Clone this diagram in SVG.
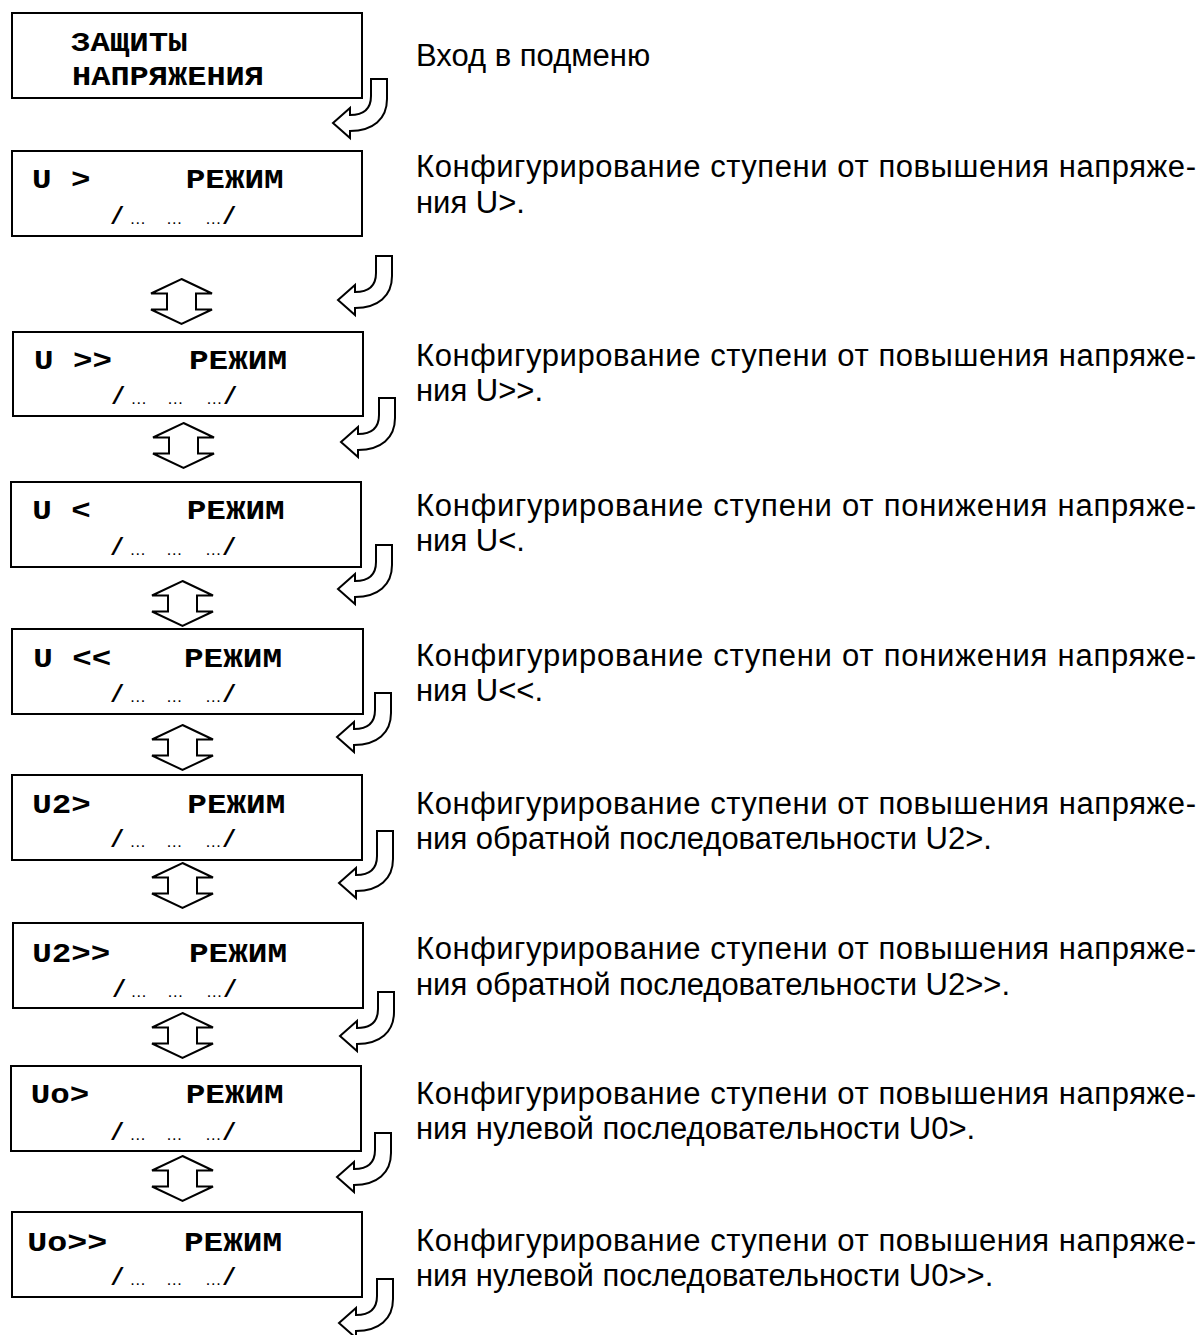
<svg xmlns="http://www.w3.org/2000/svg" xmlns:xlink="http://www.w3.org/1999/xlink" width="1201" height="1335" viewBox="0 0 1201 1335">
<style>
.box{fill:#fff;stroke:#000;stroke-width:2}
.mono{font-family:"Liberation Mono","DejaVu Sans Mono",monospace;font-weight:bold;font-size:27px;fill:#000}
.sl{font-family:"Liberation Mono","DejaVu Sans Mono",monospace;font-weight:bold;font-size:24px}
.el{font-family:"Liberation Sans",Arial,sans-serif;font-size:16.5px}
.sub{fill:#000}
.desc{font-family:"Liberation Sans",Arial,sans-serif;font-size:31px;fill:#000}
.arr{fill:#fff;stroke:#000;stroke-width:2;stroke-linejoin:miter}
</style>
<defs>
<path id="hook" d="M0,44 L17,29 L17,36 C30,36 38,30 38,17 L38,0 L54,0 L54,20 C54,40 40,52 17,52 L17,59 Z"/>
<path id="hookLong" d="M0,52 L17,37 L17,44 C30,44 38,38 38,25 L38,0 L54,0 L54,28 C54,48 40,60 17,60 L17,67 Z"/>
<path id="updown" d="M30.5,0 L61,14.5 L45,14.5 L45,30.5 L61,30.5 L30.5,45 L0,30.5 L16,30.5 L16,14.5 L0,14.5 Z"/>
</defs>
<rect width="1201" height="1335" fill="#fff"/>

<g id="connectors">
<use xlink:href="#hook" class="arr" transform="translate(333,79)"/>
<use xlink:href="#hook" class="arr" transform="translate(338,256)"/>
<use xlink:href="#hook" class="arr" transform="translate(341,398)"/>
<use xlink:href="#hook" class="arr" transform="translate(338,545)"/>
<use xlink:href="#hook" class="arr" transform="translate(337,693)"/>
<use xlink:href="#hookLong" class="arr" transform="translate(339,831)"/>
<use xlink:href="#hook" class="arr" transform="translate(340,992)"/>
<use xlink:href="#hook" class="arr" transform="translate(337,1133)"/>
<use xlink:href="#hook" class="arr" transform="translate(339,1279)"/>
<use xlink:href="#updown" class="arr" transform="translate(151,279)"/>
<use xlink:href="#updown" class="arr" transform="translate(153,423)"/>
<use xlink:href="#updown" class="arr" transform="translate(152,581)"/>
<use xlink:href="#updown" class="arr" transform="translate(152,725)"/>
<use xlink:href="#updown" class="arr" transform="translate(152,863)"/>
<use xlink:href="#updown" class="arr" transform="translate(152,1013)"/>
<use xlink:href="#updown" class="arr" transform="translate(152,1156)"/>
</g>

<g id="node-menu" transform="translate(12,13)">
<rect class="box" width="350" height="85"/>
<text class="mono" x="59" y="37.7" textLength="116.5" lengthAdjust="spacingAndGlyphs">ЗАЩИТЫ</text>
<text class="mono" x="60" y="72" textLength="192" lengthAdjust="spacingAndGlyphs">НАПРЯЖЕНИЯ</text>
</g>

<g id="node-u1" transform="translate(12,151)">
<rect class="box" width="350" height="85"/>
<text class="mono" x="20" y="37" textLength="58.5" lengthAdjust="spacingAndGlyphs">U &gt;</text>
<text class="mono" x="173.7" y="37" textLength="98" lengthAdjust="spacingAndGlyphs">РЕЖИМ</text>
<text class="sub" y="73"><tspan class="sl" x="98">/</tspan><tspan class="el" x="117.5">…</tspan><tspan class="el" x="154">…</tspan><tspan class="el" x="193">…</tspan><tspan class="sl" x="210">/</tspan></text>
</g>

<g id="node-u2" transform="translate(13,332)">
<rect class="box" width="350" height="84"/>
<text class="mono" x="21" y="36.5" textLength="78" lengthAdjust="spacingAndGlyphs">U &gt;&gt;</text>
<text class="mono" x="176" y="36.5" textLength="98" lengthAdjust="spacingAndGlyphs">РЕЖИМ</text>
<text class="sub" y="72"><tspan class="sl" x="98">/</tspan><tspan class="el" x="117.5">…</tspan><tspan class="el" x="154">…</tspan><tspan class="el" x="193">…</tspan><tspan class="sl" x="210">/</tspan></text>
</g>

<g id="node-u3" transform="translate(11,482)">
<rect class="box" width="350" height="85"/>
<text class="mono" x="21.3" y="36.5" textLength="58.5" lengthAdjust="spacingAndGlyphs">U &lt;</text>
<text class="mono" x="175.7" y="36.5" textLength="98" lengthAdjust="spacingAndGlyphs">РЕЖИМ</text>
<text class="sub" y="73"><tspan class="sl" x="99">/</tspan><tspan class="el" x="118.5">…</tspan><tspan class="el" x="155">…</tspan><tspan class="el" x="194">…</tspan><tspan class="sl" x="211">/</tspan></text>
</g>

<g id="node-u4" transform="translate(12,629)">
<rect class="box" width="351" height="85"/>
<text class="mono" x="21.3" y="38.3" textLength="78" lengthAdjust="spacingAndGlyphs">U &lt;&lt;</text>
<text class="mono" x="172" y="38.3" textLength="98" lengthAdjust="spacingAndGlyphs">РЕЖИМ</text>
<text class="sub" y="73"><tspan class="sl" x="98">/</tspan><tspan class="el" x="117.5">…</tspan><tspan class="el" x="154">…</tspan><tspan class="el" x="193">…</tspan><tspan class="sl" x="210">/</tspan></text>
</g>

<g id="node-u5" transform="translate(12,775)">
<rect class="box" width="350" height="85"/>
<text class="mono" x="20.3" y="37.7" textLength="58.5" lengthAdjust="spacingAndGlyphs">U2&gt;</text>
<text class="mono" x="175.3" y="37.7" textLength="98" lengthAdjust="spacingAndGlyphs">РЕЖИМ</text>
<text class="sub" y="72"><tspan class="sl" x="98">/</tspan><tspan class="el" x="117.5">…</tspan><tspan class="el" x="154">…</tspan><tspan class="el" x="193">…</tspan><tspan class="sl" x="210">/</tspan></text>
</g>

<g id="node-u6" transform="translate(13,923)">
<rect class="box" width="350" height="85"/>
<text class="mono" x="19.3" y="38.7" textLength="78" lengthAdjust="spacingAndGlyphs">U2&gt;&gt;</text>
<text class="mono" x="176" y="38.7" textLength="98" lengthAdjust="spacingAndGlyphs">РЕЖИМ</text>
<text class="sub" y="74"><tspan class="sl" x="99">/</tspan><tspan class="el" x="117.5">…</tspan><tspan class="el" x="154">…</tspan><tspan class="el" x="193">…</tspan><tspan class="sl" x="210">/</tspan></text>
</g>

<g id="node-u7" transform="translate(11,1066)">
<rect class="box" width="350" height="85"/>
<text class="mono" x="19.7" y="37.3" textLength="58.5" lengthAdjust="spacingAndGlyphs">Uo&gt;</text>
<text class="mono" x="174.7" y="37.3" textLength="98" lengthAdjust="spacingAndGlyphs">РЕЖИМ</text>
<text class="sub" y="74"><tspan class="sl" x="99">/</tspan><tspan class="el" x="118.5">…</tspan><tspan class="el" x="155">…</tspan><tspan class="el" x="194">…</tspan><tspan class="sl" x="211">/</tspan></text>
</g>

<g id="node-u8" transform="translate(12,1212)">
<rect class="box" width="350" height="85"/>
<text class="mono" x="15.3" y="38.7" textLength="80" lengthAdjust="spacingAndGlyphs">Uo&gt;&gt;</text>
<text class="mono" x="172" y="38.7" textLength="98" lengthAdjust="spacingAndGlyphs">РЕЖИМ</text>
<text class="sub" y="73"><tspan class="sl" x="98.3">/</tspan><tspan class="el" x="117.5">…</tspan><tspan class="el" x="154">…</tspan><tspan class="el" x="193">…</tspan><tspan class="sl" x="210">/</tspan></text>
</g>

<g id="descriptions">
<text class="desc" x="416" y="66">Вход в подменю</text>
<text class="desc" x="416" y="177" textLength="780" lengthAdjust="spacing">Конфигурирование ступени от повышения напряже-</text>
<text class="desc" x="416" y="213">ния U&gt;.</text>
<text class="desc" x="416" y="366" textLength="780" lengthAdjust="spacing">Конфигурирование ступени от повышения напряже-</text>
<text class="desc" x="416" y="401">ния U&gt;&gt;.</text>
<text class="desc" x="416" y="516" textLength="780" lengthAdjust="spacing">Конфигурирование ступени от понижения напряже-</text>
<text class="desc" x="416" y="551">ния U&lt;.</text>
<text class="desc" x="416" y="666" textLength="780" lengthAdjust="spacing">Конфигурирование ступени от понижения напряже-</text>
<text class="desc" x="416" y="701">ния U&lt;&lt;.</text>
<text class="desc" x="416" y="814" textLength="780" lengthAdjust="spacing">Конфигурирование ступени от повышения напряже-</text>
<text class="desc" x="416" y="849">ния обратной последовательности U2&gt;.</text>
<text class="desc" x="416" y="959" textLength="780" lengthAdjust="spacing">Конфигурирование ступени от повышения напряже-</text>
<text class="desc" x="416" y="995">ния обратной последовательности U2&gt;&gt;.</text>
<text class="desc" x="416" y="1104" textLength="780" lengthAdjust="spacing">Конфигурирование ступени от повышения напряже-</text>
<text class="desc" x="416" y="1139">ния нулевой последовательности U0&gt;.</text>
<text class="desc" x="416" y="1251" textLength="780" lengthAdjust="spacing">Конфигурирование ступени от повышения напряже-</text>
<text class="desc" x="416" y="1286">ния нулевой последовательности U0&gt;&gt;.</text>
</g>
</svg>
